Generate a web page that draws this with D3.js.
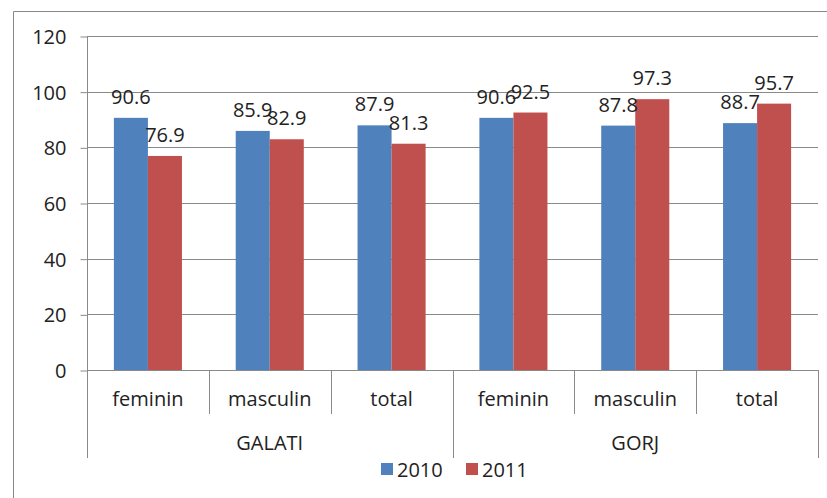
<!DOCTYPE html>
<html><head><meta charset="utf-8">
<script src="https://cdn.jsdelivr.net/npm/d3@7"></script>
<style>body{margin:0;background:#fff}svg{display:block}text{font-family:"Open Sans",sans-serif;fill:#222}</style>
</head><body><svg id="c" width="827" height="498"></svg>
<script>
const groups = ["GALATI", "GORJ"];
const subcats = ["feminin", "masculin", "total"];
const seriesNames = ["2010", "2011"];
const values2010 = [90.6, 85.9, 87.9, 90.6, 87.8, 88.7];
const values2011 = [76.9, 82.9, 81.3, 92.5, 97.3, 95.7];
const yTicks = [0, 20, 40, 60, 80, 100, 120];
const colors = ["#4F81BD", "#C0504D"];

const svg = d3.select("#c");
const L = 87, R = 818, T = 36, B = 370;
const FS = "20px";
const cats = [];
groups.forEach(g => subcats.forEach(s => cats.push({g, s, key: g + "|" + s})));
const series = [values2010, values2011];

const x = d3.scaleBand().domain(cats.map(c => c.key)).range([L, R]).paddingInner(0).paddingOuter(0);
const xs = d3.scaleBand().domain(seriesNames).range([0, x.bandwidth()]).paddingInner(0).paddingOuter(0.79);
const y = d3.scaleLinear().domain([0, 120]).range([B, T]);

// outer border (left & top)
svg.append("path").attr("d", `M13.5,498V11.5H827`).attr("fill", "none").attr("stroke", "#888").attr("stroke-width", 1);

// gridlines
svg.append("g").selectAll("line").data(yTicks).join("line")
  .attr("x1", L).attr("x2", R).attr("y1", d => Math.round(y(d)) + 0.5).attr("y2", d => Math.round(y(d)) + 0.5)
  .attr("stroke", "#8a8a8a");

// y axis
const ya = d3.axisLeft(y).tickValues(yTicks).tickSize(7).tickPadding(14).tickFormat(d3.format("d"));
const yg = svg.append("g").attr("transform", `translate(${L + 0.5},0.5)`).call(ya);
yg.select(".domain").remove();
yg.selectAll("line").attr("stroke", "#8a8a8a");
yg.selectAll("text").style("font-size", FS).attr("fill", "#222").attr("dy", "0.35em");
svg.append("line").attr("x1", L + 0.5).attr("x2", L + 0.5).attr("y1", T).attr("y2", 458).attr("stroke", "#8a8a8a");

// bars
cats.forEach((c, i) => {
  seriesNames.forEach((s, j) => {
    const v = series[j][i];
    svg.append("rect").attr("x", x(c.key) + xs(s)).attr("width", xs.bandwidth())
      .attr("y", y(v)).attr("height", y(0) - y(v)).attr("fill", colors[j]);
  });
});
// labels
cats.forEach((c, i) => {
  seriesNames.forEach((s, j) => {
    const v = series[j][i];
    svg.append("text").attr("x", x(c.key) + xs(s) + xs.bandwidth() / 2).attr("y", y(v) - 14)
      .attr("text-anchor", "middle").style("font-size", FS).text(d3.format(".1f")(v));
  });
});

// category separators
const bounds = cats.map(c => x(c.key)).concat([R]);
bounds.forEach((bx, i) => {
  const isGroup = i % subcats.length === 0;
  if (i === 0) return;
  svg.append("line").attr("x1", Math.round(bx) + 0.5).attr("x2", Math.round(bx) + 0.5)
    .attr("y1", B).attr("y2", isGroup ? 458 : 414).attr("stroke", "#8a8a8a");
});
// x axis line
svg.append("line").attr("x1", L).attr("x2", R).attr("y1", B + 0.5).attr("y2", B + 0.5).attr("stroke", "#8a8a8a");

// category labels
svg.append("g").selectAll("text").data(cats).join("text")
  .attr("x", d => x(d.key) + x.bandwidth() / 2).attr("y", 406).attr("text-anchor", "middle")
  .style("font-size", FS).text(d => d.s);
// group labels
groups.forEach((g, gi) => {
  const x0 = x(g + "|" + subcats[0]), x1 = x(g + "|" + subcats[subcats.length - 1]) + x.bandwidth();
  svg.append("text").attr("x", (x0 + x1) / 2).attr("y", 450).attr("text-anchor", "middle")
    .style("font-size", FS).text(g);
});

// legend
const legX = [381, 466];
seriesNames.forEach((s, j) => {
  svg.append("rect").attr("x", legX[j]).attr("y", 463).attr("width", 12).attr("height", 12).attr("fill", colors[j]);
  svg.append("text").attr("x", legX[j] + 16).attr("y", 477).style("font-size", FS).text(s);
});
</script></body></html>
